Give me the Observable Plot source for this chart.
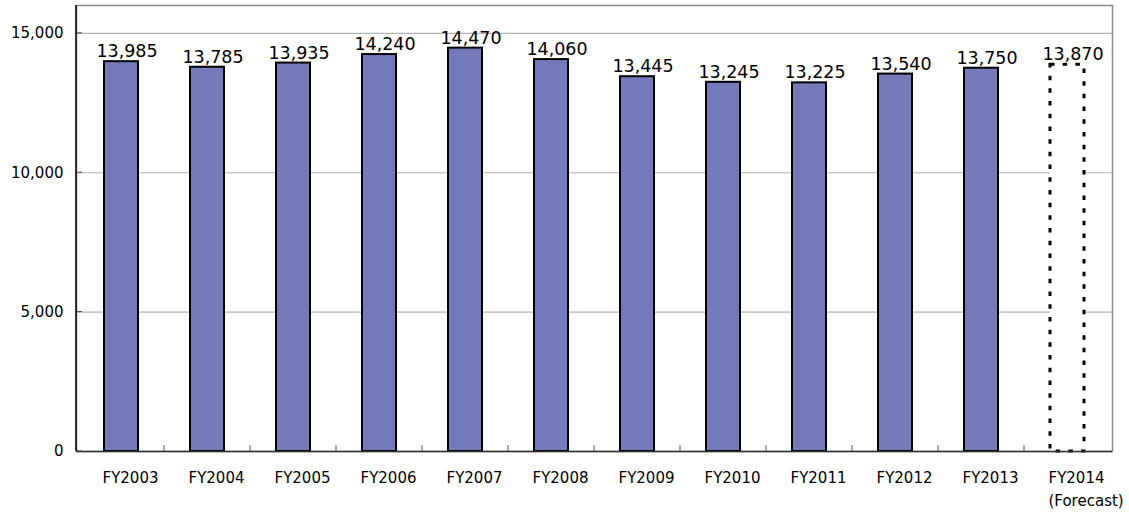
<!DOCTYPE html>
<html>
<head>
<meta charset="utf-8">
<script src="https://cdn.jsdelivr.net/npm/d3@7"></script>
<script src="https://cdn.jsdelivr.net/npm/@observablehq/plot@0.6"></script>
<style>
  html, body { margin: 0; padding: 0; background: #fff; }
  #chart svg { display: block; }
</style>
</head>
<body>
<div id="chart"></div>
<script>
const categories = ["FY2003","FY2004","FY2005","FY2006","FY2007","FY2008","FY2009","FY2010","FY2011","FY2012","FY2013","FY2014"];
const values = [13985, 13785, 13935, 14240, 14470, 14060, 13445, 13245, 13225, 13540, 13750, 13870];
const isForecast = [false,false,false,false,false,false,false,false,false,false,false,true];
const tickLabels = ["FY2003","FY2004","FY2005","FY2006","FY2007","FY2008","FY2009","FY2010","FY2011","FY2012","FY2013","FY2014\n(Forecast)"];
const yTicks = [0, 5000, 10000, 15000];

const data = categories.map((c, i) => ({cat: c, value: values[i], forecast: isForecast[i], label: tickLabels[i]}));
const labelOf = new Map(data.map(d => [d.cat, d.label]));
const fmt = d3.format(",");

// small tick marks: x ticks at boundaries between categories, y ticks inside the left edge
function axisTicks(index, scales, values, dims) {
  const x = scales.x, y = scales.y;
  const step = x.step ? x.step() : 0;
  const bw = x.bandwidth();
  const y0 = dims.height - dims.marginBottom;
  const x0 = dims.marginLeft;
  const g = d3.create("svg:g");
  const doms = x.domain();
  for (let i = 1; i < doms.length; i++) {
    const xp = x(doms[i]) + bw / 2 - step / 2;
    g.append("line")
      .attr("x1", xp).attr("x2", xp)
      .attr("y1", y0).attr("y2", y0 - 6)
      .attr("stroke", "#555").attr("stroke-width", 1);
  }
  for (const t of yTicks) {
    g.append("line")
      .attr("x1", x0).attr("x2", x0 + 6)
      .attr("y1", y(t)).attr("y2", y(t))
      .attr("stroke", "#444").attr("stroke-width", 1);
  }
  g.append("line")
    .attr("x1", x0).attr("x2", x0)
    .attr("y1", dims.marginTop).attr("y2", y0)
    .attr("stroke", "#000").attr("stroke-width", 1.5);
  return g.node();
}

const chart = Plot.plot({
  width: 1129,
  height: 514,
  marginLeft: 76,
  marginRight: 17,
  marginTop: 5,
  marginBottom: 63,
  style: {fontFamily: "'DejaVu Sans', Verdana, sans-serif", background: "#fff", color: "#000"},
  x: {domain: categories, paddingInner: 0.6, paddingOuter: 0.3, label: null},
  y: {domain: [0, 16000], label: null},
  marks: [
    Plot.frame({stroke: "#8c8c8c", strokeWidth: 1.5}),
    Plot.ruleY(yTicks.filter(d => d > 0), {stroke: "#b4b4b4", strokeWidth: 1.2}),
    Plot.axisY({ticks: yTicks, tickFormat: fmt, tickSize: 0, tickPadding: 13, fontSize: 15}),
    Plot.axisX({tickSize: 0, tickPadding: 16, fontSize: 15, tickFormat: d => labelOf.get(d), lineHeight: 1.5, textAnchor: "start", dx: -19}),
    Plot.barY(data.filter(d => !d.forecast), {x: "cat", y: "value", fill: "#7479ba", stroke: "#000", strokeWidth: 2}),
    Plot.barY(data.filter(d => d.forecast), {x: "cat", y: "value", fill: "#fff", stroke: "#000", strokeWidth: 3, strokeDasharray: "4.5,8.2"}),
    Plot.ruleY([0], {stroke: "#333", strokeWidth: 1.5}),
    axisTicks,
    Plot.text(data, {x: "cat", y: "value", text: d => fmt(d.value), dy: -10, dx: 5.5, fontSize: 17.5, fill: "#000"})
  ]
});

document.getElementById("chart").appendChild(chart);
</script>
</body>
</html>
